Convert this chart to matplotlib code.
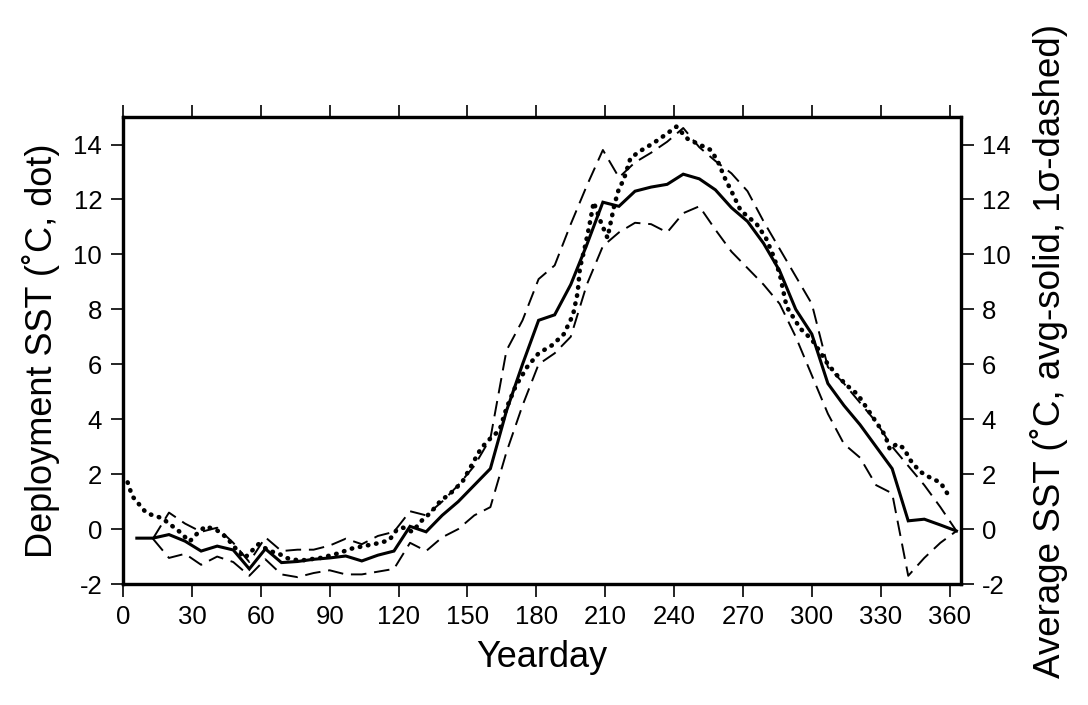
import matplotlib
matplotlib.use("Agg")
import matplotlib.pyplot as plt
import numpy as np

plt.rcParams['font.family'] = ['Liberation Sans', 'DejaVu Sans']
plt.rcParams['axes.unicode_minus'] = False

# Weekly average SST (right axis): solid = mean, dashed = mean +/- 1 sigma
avg_days = [6, 13, 20, 27, 34, 41, 48, 55, 62, 69, 76, 83, 90, 97, 104, 111, 118, 125,
            132, 139, 146, 153, 160, 167, 174, 181, 188, 195, 202, 209, 216, 223, 230,
            237, 244, 251, 258, 265, 272, 279, 286, 293, 300, 307, 314, 321, 328, 335,
            342, 349, 356, 363]
avg_sst = [-0.33, -0.33, -0.2, -0.44, -0.8, -0.62, -0.76, -1.45, -0.72, -1.22, -1.18, -1.1,
           -1.05, -0.98, -1.16, -0.95, -0.8, 0.1, -0.1, 0.5, 1.0, 1.6, 2.2, 4.3, 6.0, 7.6,
           7.8, 8.9, 10.35, 11.9, 11.75, 12.3, 12.45, 12.55, 12.92, 12.75, 12.35, 11.7,
           11.2, 10.4, 9.4, 8.0, 7.1, 5.3, 4.5, 3.8, 3.0, 2.2, 0.3, 0.36, 0.15, -0.07]

sig_days = avg_days[1:]
upper_sst = [-0.35, 0.6, 0.2, -0.1, 0.05, -0.5, -1.2, -0.3, -0.8, -0.75, -0.75, -0.6,
             -0.35, -0.55, -0.25, -0.1, 0.65, 0.5, 1.0, 1.6, 2.3, 3.3, 6.5, 7.6, 9.1, 9.6,
             11.1, 12.5, 13.8, 12.8, 13.35, 13.7, 14.1, 14.6, 13.9, 13.4, 12.95, 12.3, 11.2,
             10.2, 9.2, 8.2, 5.9, 5.3, 4.6, 3.9, 3.0, 2.3, 1.6, 0.8, -0.07]
lower_sst = [-0.35, -1.05, -0.9, -1.3, -1.0, -1.2, -1.7, -1.1, -1.65, -1.75, -1.6, -1.5,
             -1.65, -1.65, -1.55, -1.45, -0.5, -0.8, -0.3, 0.0, 0.5, 0.8, 2.8, 4.5, 6.0, 6.4,
             7.0, 8.9, 10.3, 10.8, 11.15, 11.1, 10.8, 11.5, 11.75, 10.9, 10.1, 9.5, 8.9, 8.2,
             7.0, 5.6, 4.2, 3.1, 2.6, 1.6, 1.3, -1.7, -1.05, -0.5, -0.07]

# Deployment SST (left axis, dotted)
dep_days = [2, 4, 7, 10, 13, 17, 20, 24, 29, 33, 36, 41, 45, 49, 53, 56, 59, 64, 68, 71,
            77, 86, 93, 100, 106, 112, 116, 119, 122, 126, 130, 134, 138, 144, 148, 152,
            156, 160, 164, 167, 171, 176, 181, 187, 192, 196, 198, 199, 201, 203, 205, 208,
            211, 214, 216, 218, 221, 225, 231, 237, 241, 246, 251, 256, 259, 262, 265, 269,
            276, 280, 283, 286, 289, 295, 300, 304, 307, 311, 315, 320, 324, 328, 332, 334,
            337, 340, 343, 347, 352, 356, 359]
dep_sst = [1.7, 1.2, 0.9, 0.6, 0.5, 0.4, 0.2, -0.05, -0.45, -0.1, 0.1, -0.05, -0.3, -0.7,
           -1.05, -0.8, -0.55, -0.8, -0.9, -1.05, -1.15, -1.05, -0.9, -0.7, -0.6, -0.5, -0.4,
           -0.05, 0.05, -0.1, 0.3, 0.6, 1.0, 1.4, 1.75, 2.35, 2.95, 3.3, 3.6, 4.4, 5.2, 5.9,
           6.4, 6.7, 7.1, 7.8, 8.6, 9.5, 10.2, 11.0, 11.9, 11.2, 10.6, 11.8, 12.4, 12.7, 13.5,
           13.75, 14.05, 14.4, 14.65, 14.2, 14.0, 13.8, 13.4, 12.8, 12.3, 11.6, 11.1, 10.6,
           10.0, 9.3, 8.1, 7.3, 6.9, 6.4, 6.0, 5.6, 5.25, 4.9, 4.4, 3.9, 3.4, 2.9, 3.1, 2.95,
           2.5, 2.1, 1.85, 1.7, 1.3]

x_ticks = [0, 30, 60, 90, 120, 150, 180, 210, 240, 270, 300, 330, 360]
y_ticks = [-2, 0, 2, 4, 6, 8, 10, 12, 14]

fig = plt.figure(figsize=(10.88, 7.05), dpi=100)
ax = fig.add_axes([0.1131, 0.1716, 0.7702, 0.6624])
ax2 = ax.twinx()

ax.plot(dep_days, dep_sst, color='black', lw=3.3, linestyle=(0, (0.1, 1.7)),
        dash_capstyle='round', solid_capstyle='round')
ax2.plot(avg_days, avg_sst, color='black', lw=2.2, solid_joinstyle='miter')
ax2.plot(sig_days, upper_sst, color='black', lw=1.4, linestyle=(0, (8, 4)))
ax2.plot(sig_days, lower_sst, color='black', lw=1.4, linestyle=(0, (8, 4)))

for a in (ax, ax2):
    a.set_xlim(0, 365)
    a.set_ylim(-2, 15)
    a.set_yticks(y_ticks)
    for s in a.spines.values():
        s.set_linewidth(2.3)

ax.set_xticks(x_ticks)
ax.tick_params(axis='x', which='both', direction='out', length=9, width=1.2,
               top=True, labeltop=False, labelsize=18.5, pad=6)
ax.tick_params(axis='y', direction='out', length=9, width=1.2, labelsize=18.5, pad=6)
ax2.tick_params(axis='y', direction='out', length=9, width=1.2, labelsize=18.5, pad=6)

ax.set_xlabel('Yearday', fontsize=26, labelpad=8)
ax.set_ylabel('Deployment SST (˚C, dot)', fontsize=26, labelpad=10)
ax2.set_ylabel('Average SST (˚C, avg-solid, 1σ-dashed)', fontsize=26.5, labelpad=14)

fig.savefig('out.png', dpi=100)
